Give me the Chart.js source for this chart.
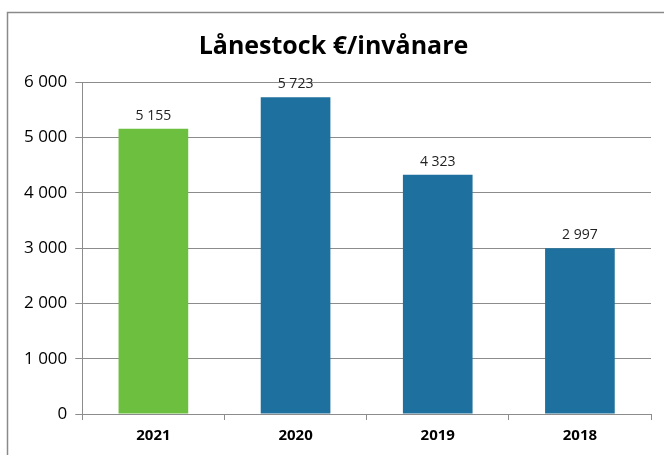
<!DOCTYPE html>
<html lang="sv">
  <head>
    <meta charset="UTF-8" />
    <title>Lånestock €/invånare</title>
    <style>
      body { margin: 0; background: #fff; }
      #lienzo { display: block; }
    </style>
  </head>
  <body>
    <canvas id="lienzo" width="664" height="455"></canvas>
    <script src="https://cdn.jsdelivr.net/npm/chart.js"></script>
    <script>
      const ar = ["2021", "2020", "2019", "2018"];
      const lanestock = [5155, 5723, 4323, 2997];
      const farger = ["#6cbf3f", "#1e709e", "#1e709e", "#1e709e"];
      const yTicks = [0, 1000, 2000, 3000, 4000, 5000, 6000];

      const mellanrum = (v) => String(v).replace(/\B(?=(\d{3})+(?!\d))/g, " ");

      // etiketter ovanför staplarna
      const stapelText = {
        id: "stapelText",
        afterDatasetsDraw(chart) {
          const ctx = chart.ctx;
          const meta = chart.getDatasetMeta(0);
          ctx.save();
          ctx.font = "14px 'Open Sans'";
          ctx.fillStyle = "#222";
          ctx.textAlign = "center";
          ctx.textBaseline = "bottom";
          meta.data.forEach((bar, i) => {
            ctx.fillText(mellanrum(lanestock[i]), bar.x, bar.y - 6);
          });
          ctx.restore();
        },
      };

      // ram runt diagrammet
      const ram = {
        id: "ram",
        beforeDraw(chart) {
          const ctx = chart.ctx;
          ctx.save();
          ctx.strokeStyle = "#8a8a8a";
          ctx.lineWidth = 1.5;
          ctx.strokeRect(7.5, 12.5, 700, 500);
          ctx.restore();
        },
      };

      new Chart(document.querySelector("#lienzo"), {
        type: "bar",
        data: {
          labels: ar,
          datasets: [
            {
              label: "Lånestock €/invånare",
              data: lanestock,
              backgroundColor: farger,
              barPercentage: 0.98,
              categoryPercentage: 0.5,
            },
          ],
        },
        options: {
          responsive: false,
          animation: false,
          layout: { padding: { left: 16, right: 13, top: 32, bottom: 3 } },
          plugins: {
            legend: { display: false },
            tooltip: { enabled: false },
            title: {
              display: true,
              text: "Lånestock €/invånare",
              color: "#000",
              font: { family: "'Open Sans'", size: 25, weight: "bold" },
              padding: { top: 0, bottom: 20 },
            },
          },
          scales: {
            y: {
              min: 0,
              max: 6000,
              afterBuildTicks(axis) {
                axis.ticks = yTicks.map((v) => ({ value: v }));
              },
              ticks: {
                color: "#000",
                font: { family: "'Open Sans'", size: 17 },
                padding: 8,
                callback: (v) => mellanrum(v),
              },
              grid: { color: "#8c8c8c", tickLength: 7 },
              border: { color: "#8c8c8c" },
            },
            x: {
              ticks: {
                color: "#000",
                font: { family: "'Open Sans'", size: 15, weight: "bold" },
                padding: 7,
              },
              grid: { drawOnChartArea: false, color: "#8c8c8c", tickLength: 6 },
              border: { color: "#8c8c8c" },
            },
          },
        },
        plugins: [ram, stapelText],
      });
    </script>
  </body>
</html>
